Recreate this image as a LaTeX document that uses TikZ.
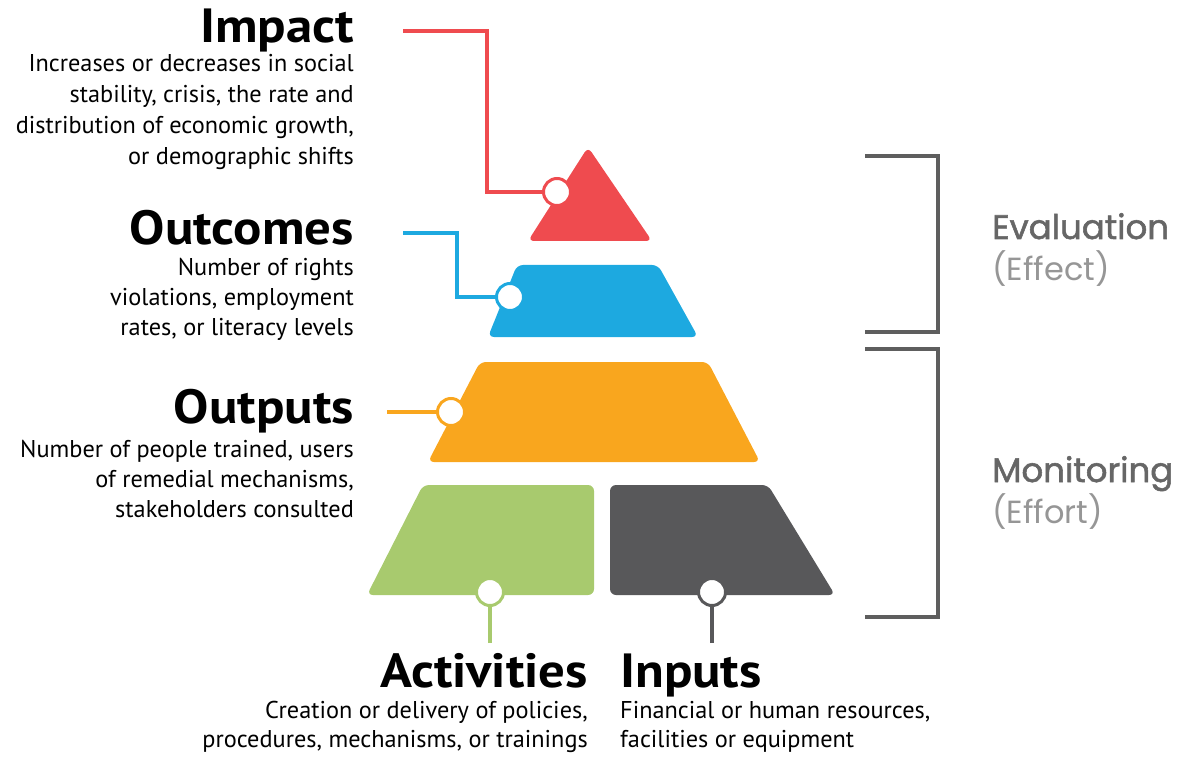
\documentclass[tikz,border=0pt]{standalone}
\usepackage{fontspec}
\setmainfont{PT Sans}[BoldFeatures={FakeStretch=1.1}]
\newfontfamily\poppins{Poppins}
\newfontfamily\poppinsheavy[FakeBold=1.6]{Poppins}
\usepackage{tikz}
\usetikzlibrary{positioning}

\definecolor{impactred}{HTML}{EF4B4F}
\definecolor{outcomeblue}{HTML}{1DA9E0}
\definecolor{outputorange}{HTML}{F9A61E}
\definecolor{activitygreen}{HTML}{A8CA6E}
\definecolor{inputgray}{HTML}{58585A}
\definecolor{bracketgray}{HTML}{5E5E5E}

\begin{document}
\begin{tikzpicture}[x=1pt,y=-1pt,thin]
                \tikzset{dot/.style={circle, draw=#1, fill=white, line width=3pt, minimum size=27pt, inner sep=0pt},
                         link/.style={draw=#1, line width=4pt},
                         level/.style={fill=#1, rounded corners=6pt},
                         title/.style={font=\fontsize{48}{52}\selectfont\bfseries, inner sep=0pt},
                         body/.style={font=\fontsize{24.3}{#1}\selectfont, inner sep=0pt},
                         body/.default=30,
                         side/.style={font=\poppins\fontsize{32}{41}\selectfont, anchor=base west, inner sep=0pt}}
                \useasboundingbox (0,0) rectangle (1188,759);
                % pyramid levels
                \fill[level=impactred] (528,241) -- (588,147) -- (652,241) -- cycle;
                \fill[level=outcomeblue] (488,337) -- (517,265) -- (658,265) -- (698,337) -- cycle;
                \fill[level=outputorange] (428,462) -- (480,362) -- (708,362) -- (760,462) -- cycle;
                \fill[level=activitygreen] (367,595) -- (423,485) -- (594,485) -- (594,595) -- cycle;
                \fill[level=inputgray] (610,595) -- (610,485) -- (768,485) -- (835,595) -- cycle;
                % brackets
                \draw[bracketgray, line width=4pt] (865,156) -| (938,332) -- (865,332);
                \draw[bracketgray, line width=4pt] (865,349) -| (938,617) -- (865,617);
                % text on the left (base = last line)
                \node[title, anchor=base east] (impactTitle) at (354,43) {Impact};
                \node[body=31, anchor=base east, align=right] (impactText) at (354,165)
                    {Increases or decreases in social\\stability, crisis, the rate and\\distribution of economic growth,\\or demographic shifts};
                \node[title, anchor=base east] (outcomesTitle) at (354,245) {Outcomes};
                \node[body, anchor=base east, align=right] (outcomesText) at (354,335)
                    {Number of rights\\violations, employment\\rates, or literacy levels};
                \node[title, anchor=base east] (outputsTitle) at (354,423) {Outputs};
                \node[body, anchor=base east, align=right] (outputsText) at (354,517)
                    {Number of people trained, users\\of remedial mechanisms,\\stakeholders consulted};
                \node[title, anchor=base east] (activitiesTitle) at (588,687) {Activities};
                \node[body=29, anchor=base east, align=right] (activitiesText) at (588,747)
                    {Creation or delivery of policies,\\procedures, mechanisms, or trainings};
                \node[title, anchor=base west] (inputsTitle) at (620,687) {Inputs};
                \node[body=29, anchor=base west, align=left] (inputsText) at (620,747)
                    {Financial or human resources,\\facilities or equipment};
                % text on the right
                \node[side, font=\poppinsheavy\fontsize{34}{41}\selectfont, text=bracketgray!95] (evaluationTitle) at (992,239) {Evaluation};
                \node[side, text=bracketgray!65] (effectText) at (992,280) {(Effect)};
                \node[side, font=\poppinsheavy\fontsize{34}{41}\selectfont, text=bracketgray!95] (monitoringTitle) at (992,482) {Monitoring};
                \node[side, text=bracketgray!65] (effortText) at (992,523) {(Effort)};
                % dots and connectors
                \node[dot=impactred] (redDot) at (557,192) {};
                \node[dot=outcomeblue] (blueDot) at (510,297) {};
                \node[dot=outputorange] (orangeDot) at (451,412) {};
                \node[dot=activitygreen] (greenDot) at (490,592) {};
                \node[dot=inputgray] (grayDot) at (712,592) {};
                \coordinate (impactEnd) at (403,31);
                \coordinate (impactKnee) at (487,192);
                \coordinate (outcomesEnd) at (403,233);
                \coordinate (outcomesKnee) at (457,297);
                \coordinate (outputsEnd) at (387,412);
                \coordinate (activitiesEnd) at (490,643);
                \coordinate (inputsEnd) at (712,643);
                \draw[link=impactred] (impactEnd) -| (impactKnee) -- (redDot);
                \draw[link=outcomeblue] (outcomesEnd) -| (outcomesKnee) -- (blueDot);
                \draw[link=outputorange] (outputsEnd) -- (orangeDot);
                \draw[link=activitygreen] (activitiesEnd) -- (greenDot);
                \draw[link=inputgray] (inputsEnd) -- (grayDot);
            \end{tikzpicture}
\end{document}
